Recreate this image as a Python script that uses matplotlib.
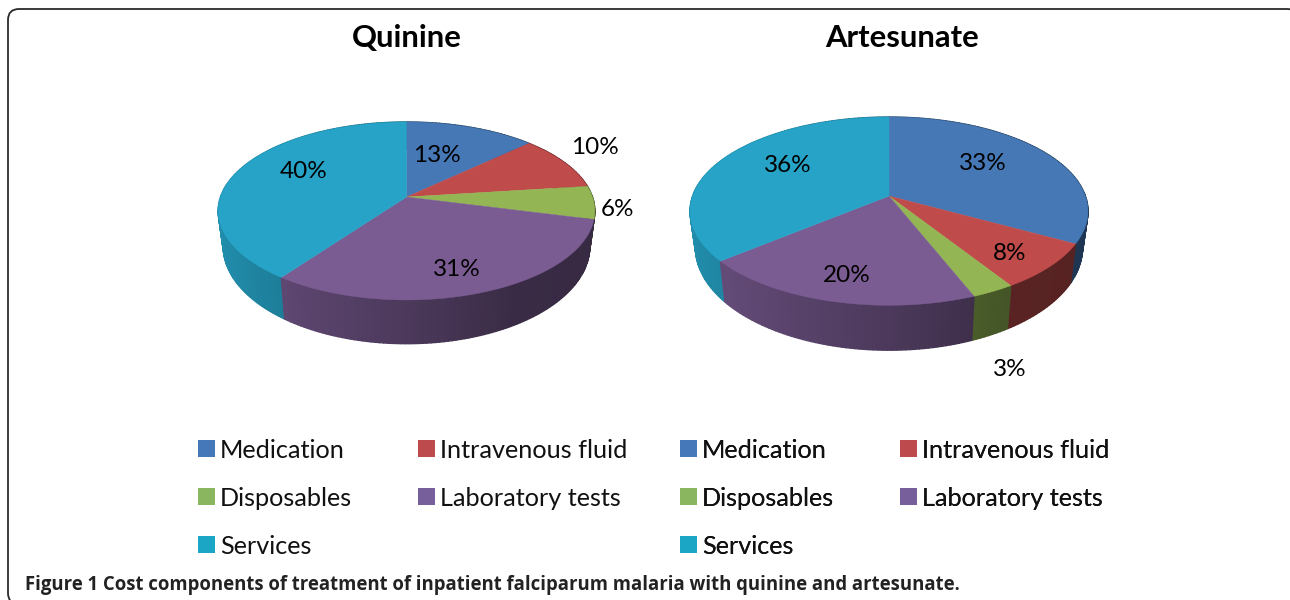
import numpy as np
import matplotlib
matplotlib.use("Agg")
import matplotlib.pyplot as plt
from matplotlib.colors import to_rgb
from matplotlib.patches import FancyBboxPatch, Patch

categories = ["Medication", "Intravenous fluid", "Disposables", "Laboratory tests", "Services"]
quinine_values = [13, 10, 6, 31, 40]
artesunate_values = [33, 8, 3, 20, 36]
pie_titles = ["Quinine", "Artesunate"]
caption = "Figure 1 Cost components of treatment of inpatient falciparum malaria with quinine and artesunate."

top_colors = ["#4578b5", "#bf4b4b", "#93b553", "#7a5c93", "#26a3c6"]
legend_colors = ["#4478b8", "#bd4b4d", "#8ab660", "#775f9c", "#1ba6c6"]

CHART_FONT = "Lato"
CAPTION_FONT = "Open Sans"


def project(phi, cx, cy, a, b, k):
    # perspective view of a flat circle, phi is clockwise from 12 o'clock
    d = 1 + k * np.cos(phi)
    return cx + a * np.sin(phi) / d, cy - b * np.cos(phi) / d


def shade(phi):
    return np.interp(np.sin(phi), [-1, 0, 0.5, 1], [0.88, 0.62, 0.47, 0.45])


def pie3d(ax, values, cx, cy, top, bottom):
    fracs = np.array(values) / np.sum(values)
    ends = np.cumsum(fracs) * 2 * np.pi
    starts = np.concatenate([[0], ends[:-1]])

    # side wall, back to front
    strips = []
    for start, end, color in zip(starts, ends, top_colors):
        edges = np.linspace(start, end, max(int((end - start) / 0.02), 2) + 1)
        for p0, p1 in zip(edges[:-1], edges[1:]):
            strips.append((p0, p1, color))
    strips.sort(key=lambda s: -np.cos((s[0] + s[1]) / 2))
    for p0, p1, color in strips:
        xt, yt = project(np.array([p0, p1]), cx, cy, *top)
        xb, yb = project(np.array([p1, p0]), cx, cy + bottom[0], *bottom[1:])
        shaded = np.array(to_rgb(color)) * shade((p0 + p1) / 2)
        ax.fill(np.r_[xt, xb], np.r_[yt, yb], color=shaded, lw=1.0)

    # top face
    for start, end, color in zip(starts, ends, top_colors):
        phi = np.linspace(start, end, 120)
        x, y = project(phi, cx, cy, *top)
        ax.fill(np.r_[cx, x], np.r_[cy, y], color=color, lw=0.3)


fig = plt.figure(figsize=(12.9, 6), dpi=100)
ax = fig.add_axes([0, 0, 1, 1])
ax.set_xlim(0, 1290)
ax.set_ylim(600, 0)
ax.axis("off")

frame = FancyBboxPatch((8, 9), 1290, 595, boxstyle="round,pad=0,rounding_size=11",
                       fc="white", ec="#2b2b2b", lw=1.3)
ax.add_patch(frame)

pie3d(ax, quinine_values, 406.5, 197, (186, 86.8, 0.157), (34, 181, 95, 0.157))
pie3d(ax, artesunate_values, 889, 196, (196.4, 91.7, 0.161), (35, 191, 100, 0.161))

ax.text(407, 38, pie_titles[0], family=CHART_FONT, weight="bold", fontsize=22.3, ha="center", va="center", color="black")
ax.text(902, 38, pie_titles[1], family=CHART_FONT, weight="bold", fontsize=22.3, ha="center", va="center", color="black")

quinine_label_pos = [(437, 155), (595, 147), (618, 209), (457, 269), (304, 172)]
artesunate_label_pos = [(983, 163), (1010, 254), (1010, 370), (847, 275), (788, 165)]
for vals, positions in [(quinine_values, quinine_label_pos), (artesunate_values, artesunate_label_pos)]:
    for v, (x, y) in zip(vals, positions):
        ax.text(x, y, f"{v}%", family=CHART_FONT, fontsize=17.5, ha="center", va="center", color="black")

# legends fill by column, so the order is rearranged to read across rows
order = [0, 2, 4, 1, 3]
handles = [Patch(fc=legend_colors[i], ec="none", label=categories[i]) for i in order]
for left in [198, 680]:
    leg = ax.legend(handles=handles, ncols=2, loc="upper left", bbox_to_anchor=(left, 438.5),
                    bbox_transform=ax.transData, frameon=False, borderpad=0, borderaxespad=0,
                    handlelength=0.67, handleheight=0.67, handletextpad=0.2,
                    columnspacing=2.6, labelspacing=0.99, prop={"family": CHART_FONT, "size": 18.2})
    for t in leg.get_texts():
        t.set_color("#111111")
    ax.add_artist(leg)

ax.text(25, 585, caption, family=CAPTION_FONT, weight="bold", fontsize=13.37, ha="left", va="center", color="#222222")

fig.savefig("out.png", dpi=100)
